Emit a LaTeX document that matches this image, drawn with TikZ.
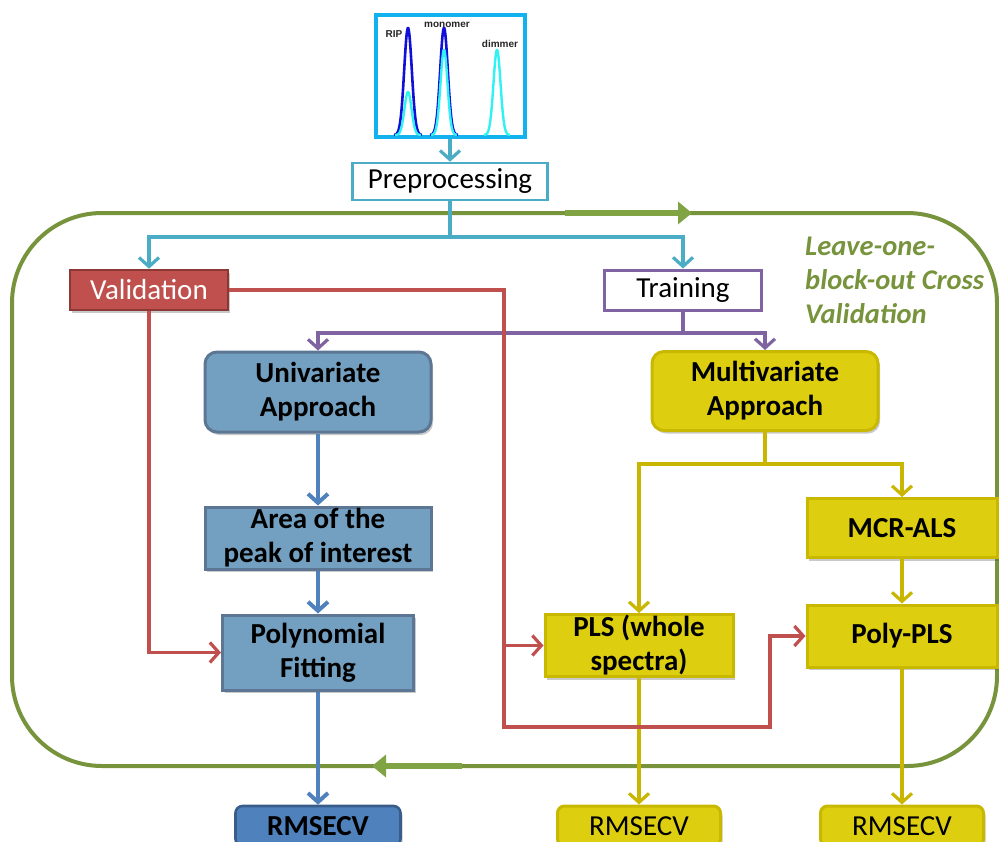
\documentclass[tikz,border=0pt]{standalone}
\usepackage{fontspec}
\setmainfont{Carlito}
\newfontfamily\peakfont{Liberation Sans}
\usetikzlibrary{arrows.meta,shadows}

\definecolor{specframe}{HTML}{12B2EE}
\definecolor{specdark}{HTML}{1010D8}
\definecolor{speclight}{HTML}{30F2F2}
\definecolor{tealc}{HTML}{4BACC6}
\definecolor{redc}{HTML}{C0504D}
\definecolor{redborder}{HTML}{8C3836}
\definecolor{purplec}{HTML}{8064A2}
\definecolor{steelfill}{RGB}{115,160,192}
\definecolor{steelborder}{RGB}{92,118,148}
\definecolor{bluec}{HTML}{4F81BD}
\definecolor{blueborder}{HTML}{385D8A}
\definecolor{yelfill}{RGB}{221,207,16}
\definecolor{yelborder}{RGB}{200,184,0}
\definecolor{yelline}{RGB}{200,182,0}
\definecolor{loopgreen}{HTML}{77933C}
\definecolor{looparrow}{RGB}{128,164,68}

\tikzset{
  txt/.style={font=\fontsize{29}{34}\selectfont, align=center, inner sep=0pt},
  btxt/.style={font=\fontsize{29}{34}\selectfont\bfseries, align=center, inner sep=0pt},
  shade/.style={drop shadow={shadow xshift=2pt, shadow yshift=-3pt, opacity=0.3, fill=black!70}},
  plainbox/.style={txt, draw, line width=2.6pt, fill=white},
  steelbox/.style={btxt, draw=steelborder, fill=steelfill, line width=3pt, shade},
  yelbox/.style={btxt, draw=yelborder, fill=yelfill, line width=3pt, shade},
  conn/.style={line width=3.2pt},
  bconn/.style={line width=4pt},
  tip/.style={-{Straight Barb[length=9pt,width=20pt]}},
  peaklabel/.style={font=\peakfont\fontsize{10}{12}\selectfont\bfseries, text=black!85, inner sep=0pt, anchor=base},
}

\begin{document}
\begin{tikzpicture}[x=1pt,y=-1pt]
\useasboundingbox (0,0) rectangle (999,841);

% cross-validation loop
\draw[loopgreen, line width=4pt, rounded corners=90pt] (12,213) rectangle (997,766);
\coordinate (cvtopA) at (565,213);
\coordinate (cvtopB) at (692,213);
\coordinate (cvbotA) at (462,766);
\coordinate (cvbotB) at (372,766);
\draw[looparrow, line width=6pt, -{Triangle[length=14pt,width=22pt]}] (cvtopA) -- (cvtopB);
\draw[looparrow, line width=6pt, -{Triangle[length=14pt,width=22pt]}] (cvbotA) -- (cvbotB);
\node[font=\fontsize{28.5}{34}\selectfont\bfseries\itshape, text=loopgreen, align=left, anchor=north west, inner sep=0pt] (cvlabel) at (805,237) {Leave-one-\\block-out Cross\\Validation};

% spectrum
\node[draw=specframe, line width=4pt, fill=white, minimum width=149pt, minimum height=122pt, inner sep=0pt] (spec) at (450,76) {};
\foreach \a/\b/\c/\h in {394/422/408/107, 430/458/444/107}
  \draw[specdark, line width=2.6pt] plot[domain=\a:\b, samples=60, smooth] (\x,{135-\h*exp(-((\x-\c)/5.4)^2)});
\foreach \a/\b/\c/\h in {395/421/408/43, 431/457/444/85, 484/510/497/85}
  \draw[speclight, line width=2.4pt] plot[domain=\a:\b, samples=60, smooth] (\x,{135-\h*exp(-((\x-\c)/5)^2)});
\node[peaklabel] (ripl) at (394,37) {RIP};
\node[peaklabel] (monol) at (447,27) {monomer};
\node[peaklabel] (diml) at (500,47) {dimmer};

% main boxes
\node[plainbox, draw=tealc, minimum width=195pt, minimum height=37pt] (pre) at (450,181.5) {Preprocessing};
\node[txt, draw=redborder, fill=redc, text=white, line width=2.6pt, minimum width=158pt, minimum height=40pt, shade] (val) at (149,290) {Validation};
\node[plainbox, draw=purplec, line width=3pt, minimum width=157pt, minimum height=40pt] (train) at (683,290) {Training};

\node[steelbox, rounded corners=12pt, minimum width=226pt, minimum height=80pt] (uni) at (318,392) {Univariate\\Approach};
\node[steelbox, minimum width=226pt, minimum height=62pt] (area) at (318,538) {Area of the\\peak of interest};
\node[steelbox, minimum width=191pt, minimum height=75pt] (poly) at (318,652.5) {Polynomial\\Fitting};

\node[yelbox, rounded corners=12pt, minimum width=226pt, minimum height=79pt] (multi) at (765,391) {Multivariate\\Approach};
\node[yelbox, minimum width=188pt, minimum height=62pt] (pls) at (639,645.5) {PLS (whole\\spectra)};
\node[yelbox, minimum width=190pt, minimum height=59pt] (mcr) at (902,528) {MCR-ALS};
\node[yelbox, minimum width=190pt, minimum height=62pt] (polypls) at (902,636) {Poly-PLS};

\node[btxt, draw=blueborder, fill=bluec, line width=2.6pt, rounded corners=7pt, minimum width=165pt, minimum height=40pt, shade] (rm1) at (318,826) {RMSECV};
\node[txt, draw=yelborder, fill=yelfill, line width=3pt, rounded corners=7pt, minimum width=163pt, minimum height=40pt, shade] (rm2) at (639,826) {RMSECV};
\node[txt, draw=yelborder, fill=yelfill, line width=3pt, rounded corners=7pt, minimum width=163pt, minimum height=40pt, shade] (rm3) at (902,826) {RMSECV};

% teal connectors
\coordinate (tsplit) at (450,237);
\draw[tealc, conn, tip] (spec.south) -- (pre.north);
\draw[tealc, conn] (pre.south) -- (tsplit);
\draw[tealc, conn, tip] (tsplit) -| (val.north);
\draw[tealc, conn, tip] (tsplit) -| (train.north);

% purple connectors
\coordinate (psplit) at (683,333);
\draw[purplec, conn] (train.south) -- (psplit);
\draw[purplec, conn, tip] (psplit) -| (uni.north);
\draw[purplec, conn, tip] (psplit) -| (multi.north);

% univariate chain
\draw[bluec, bconn, tip] (uni.south) -- (area.north);
\draw[bluec, bconn, tip] (area.south) -- (poly.north);
\draw[bluec, bconn, tip] (poly.south) -- (rm1.north);

% multivariate chain
\coordinate (msplit) at (765,464);
\draw[yelline, conn] (multi.south) -- (msplit);
\draw[yelline, conn, tip] (msplit) -| (pls.north);
\draw[yelline, conn, tip] (msplit) -| (mcr.north);
\draw[yelline, conn, tip] (mcr.south) -- (polypls.north);
\draw[yelline, conn, tip] (pls.south) -- (rm2.north);
\draw[yelline, conn, tip] (polypls.south) -- (rm3.north);

% validation connectors
\coordinate (rdown) at (504,727);
\coordinate (rup) at (770,727);
\draw[redc, conn, tip] (val.south) |- (poly.west);
\draw[redc, conn, tip] (val.east) -| (rdown) -- (rup) |- (polypls.west);
\draw[redc, conn, tip] (pls.west -| rdown) -- (pls.west);
\end{tikzpicture}
\end{document}
